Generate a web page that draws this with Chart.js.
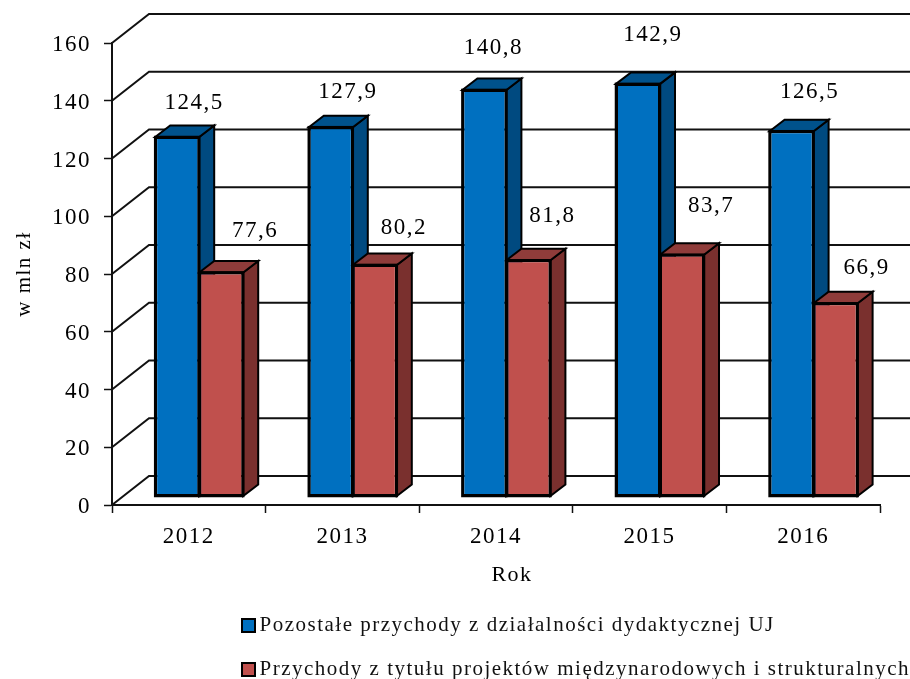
<!DOCTYPE html>
<html lang="pl">
<head>
    <meta charset="UTF-8">
    <title>Przychody UJ</title>
    <script src="https://cdn.jsdelivr.net/npm/chart.js"></script>
    <style>
        * { margin: 0; padding: 0; }
        body { background: #fff; }
        canvas { display: block; }
    </style>
</head>
<body>
    <canvas id="chart" width="910" height="679"></canvas>
    <script>
        const years = ['2012', '2013', '2014', '2015', '2016'];
        const otherIncome = [124.5, 127.9, 140.8, 142.9, 126.5];
        const projectIncome = [77.6, 80.2, 81.8, 83.7, 66.9];
        const otherName = 'Pozostałe przychody z działalności dydaktycznej UJ';
        const projectName = 'Przychody z tytułu projektów międzynarodowych i strukturalnych';

        // data label shift from the top centre of the bar front
        const otherLabelShift = [[17, -34], [17, -35], [9, -42], [15, -49], [18, -39]];
        const projectLabelShift = [[34, -41], [29, -37], [24, -44], [29, -49], [31, -35]];

        const serif = '"Liberation Serif", serif';
        const wall = { dx: 37, dy: 29 };      // back wall offset
        const inset = { dx: 10.4, dy: 8.5 };  // bars stand inside the floor
        const depth = { dx: 15, dy: 11.5 };   // bar depth
        const sideColors = [
            { top: '#00528c', side: '#004a80' },
            { top: '#8f3c3a', side: '#7a302e' }
        ];

        function poly(ctx, pts, fill) {
            ctx.beginPath();
            pts.forEach((p, i) => i ? ctx.lineTo(p[0], p[1]) : ctx.moveTo(p[0], p[1]));
            ctx.closePath();
            ctx.fillStyle = fill;
            ctx.fill();
            ctx.stroke();
        }

        const fake3d = {
            id: 'fake3d',
            beforeLayout(chart) {
                chart.ctx.letterSpacing = '1.5px';
            },
            afterLayout(chart) {
                // both legend rows start at the same x, under the plot
                chart.legend.left = 225;
                chart.legend.right = 910;
                chart.legend.top = 592;
                chart.legend.bottom = 679;
                // serif digits ride high on a middle baseline
                chart.scales.y.getLabelItems(chart.chartArea).forEach(item => {
                    item.options.translation[1] += 2;
                });
            },
            beforeDatasetsDraw(chart) {
                const ctx = chart.ctx, y = chart.scales.y, area = chart.chartArea;
                ctx.save();
                ctx.strokeStyle = '#111';
                ctx.lineWidth = 2;
                y.ticks.forEach(t => {
                    const py = y.getPixelForValue(t.value);
                    ctx.beginPath();
                    ctx.moveTo(area.left, py);
                    ctx.lineTo(area.left + wall.dx, py - wall.dy);
                    ctx.lineTo(area.right + wall.dx, py - wall.dy);
                    ctx.stroke();
                });
                ctx.restore();

                // fronts are left to the library, it draws them after this
                ctx.save();
                ctx.translate(inset.dx, -inset.dy);
                ctx.save();
                ctx.strokeStyle = '#000';
                ctx.lineWidth = 2;
                sideColors.forEach((c, d) => {
                    chart.getDatasetMeta(d).data.forEach(bar => {
                        const l = bar.x - bar.width / 2, r = bar.x + bar.width / 2;
                        poly(ctx, [[r, bar.y], [r + depth.dx, bar.y - depth.dy], [r + depth.dx, bar.base - depth.dy], [r, bar.base]], c.side);
                        poly(ctx, [[l, bar.y], [l + depth.dx, bar.y - depth.dy], [r + depth.dx, bar.y - depth.dy], [r, bar.y]], c.top);
                    });
                });
                ctx.restore();
            },
            afterDatasetsDraw(chart) {
                const ctx = chart.ctx;
                // outline of the fronts, centred on the edge like the side faces
                ctx.strokeStyle = '#000';
                ctx.lineWidth = 2.5;
                sideColors.forEach((c, d) => {
                    chart.getDatasetMeta(d).data.forEach(bar => {
                        ctx.strokeRect(bar.x - bar.width / 2, bar.y, bar.width, bar.base - bar.y);
                    });
                });
                ctx.restore();
                ctx.save();
                ctx.font = '23px ' + serif;
                ctx.fillStyle = '#000';
                ctx.textAlign = 'center';
                ctx.textBaseline = 'middle';
                [otherLabelShift, projectLabelShift].forEach((shift, d) => {
                    chart.getDatasetMeta(d).data.forEach((bar, i) => {
                        const v = chart.data.datasets[d].data[i];
                        const text = v.toFixed(1).replace('.', ',');
                        ctx.fillText(text, bar.x + inset.dx + shift[i][0], bar.y - inset.dy + shift[i][1]);
                    });
                });
                // axis title sits right of the axis centre in the original
                ctx.font = '22px ' + serif;
                ctx.fillText('Rok', (chart.chartArea.left + chart.chartArea.right) / 2 + 16, 575);
                ctx.restore();
            }
        };

        new Chart(document.getElementById('chart').getContext('2d'), {
            type: 'bar',
            data: {
                labels: years,
                datasets: [
                    { label: otherName, data: otherIncome, backgroundColor: '#0070c0', borderColor: '#000', borderWidth: 2 },
                    { label: projectName, data: projectIncome, backgroundColor: '#c0504d', borderColor: '#000', borderWidth: 2 }
                ]
            },
            options: {
                responsive: false,
                animation: false,
                layout: { padding: { top: 43, right: 30 } },
                datasets: {
                    bar: {
                        clip: false,
                        borderSkipped: 'middle',
                        categoryPercentage: 0.573,
                        barPercentage: 1
                    }
                },
                scales: {
                    x: {
                        afterFit(s) { s.height = 174 - s.chart.legend.height; },
                        border: { color: '#111', width: 2 },
                        grid: { drawOnChartArea: false, color: '#111', tickLength: 8, tickWidth: 1.5 },
                        ticks: { color: '#000', padding: 10, font: { family: serif, size: 23 } }
                    },
                    y: {
                        min: 0,
                        max: 160,
                        afterFit(s) { s.width = 112; },
                        border: { color: '#111', width: 2 },
                        grid: { drawOnChartArea: false, color: '#111', tickLength: 8, tickWidth: 1.5 },
                        ticks: { stepSize: 20, color: '#000', padding: 13, font: { family: serif, size: 23 } },
                        title: { display: true, text: 'w mln zł', color: '#000', padding: { top: 12 }, font: { family: serif, size: 21 } }
                    }
                },
                plugins: {
                    tooltip: { enabled: false },
                    legend: {
                        position: 'bottom',
                        align: 'start',
                        labels: {
                            color: '#111',
                            usePointStyle: true,
                            pointStyle: 'rect',
                            boxWidth: 1,
                            boxHeight: 13,
                            padding: 23,
                            font: { family: serif, size: 21 }
                        }
                    }
                }
            },
            plugins: [fake3d]
        });
    </script>
</body>
</html>
